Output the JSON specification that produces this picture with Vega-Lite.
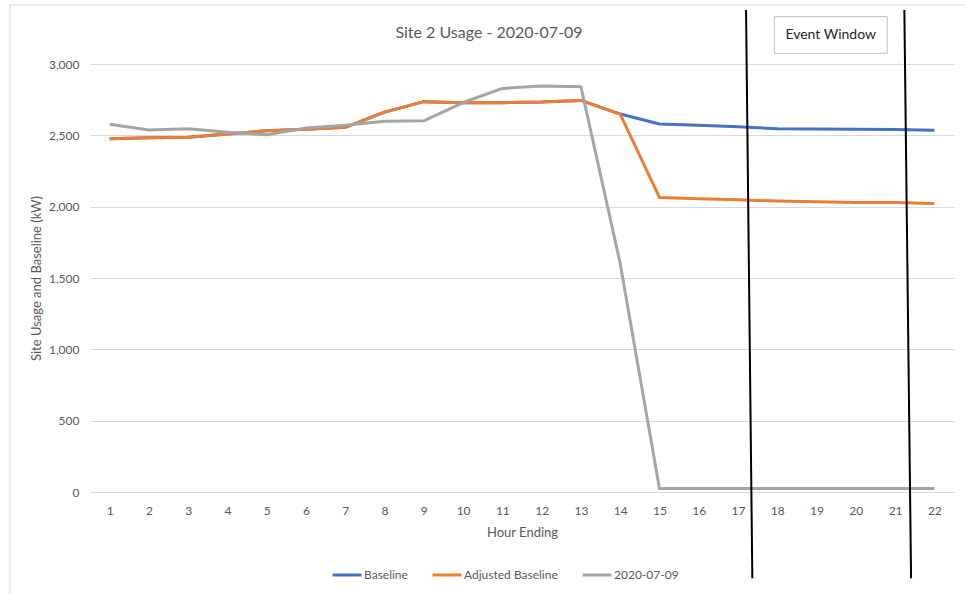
{
  "$schema": "https://vega.github.io/schema/vega-lite/v6.json",
  "width": 864,
  "height": 428,
  "autosize": {"type": "none"},
  "padding": {"left": 90, "top": 64, "right": 11, "bottom": 102},
  "background": "white",
  "config": {
    "view": {"stroke": null},
    "font": "Lato",
    "axis": {"labelFont": "Lato", "titleFont": "Lato", "labelColor": "#595959", "titleColor": "#595959", "labelFontSize": 12, "titleFontSize": 13, "titleFontWeight": "normal"},
    "legend": {"labelFont": "Lato", "labelFontSize": 12, "labelColor": "#595959"}
  },
  "datasets": {
    "usage": [
      {"hour": 1, "series": "Baseline", "kw": 2476}, {"hour": 2, "series": "Baseline", "kw": 2483}, {"hour": 3, "series": "Baseline", "kw": 2486}, {"hour": 4, "series": "Baseline", "kw": 2509}, {"hour": 5, "series": "Baseline", "kw": 2532}, {"hour": 6, "series": "Baseline", "kw": 2542}, {"hour": 7, "series": "Baseline", "kw": 2556}, {"hour": 8, "series": "Baseline", "kw": 2663}, {"hour": 9, "series": "Baseline", "kw": 2736}, {"hour": 10, "series": "Baseline", "kw": 2729}, {"hour": 11, "series": "Baseline", "kw": 2729}, {"hour": 12, "series": "Baseline", "kw": 2733}, {"hour": 13, "series": "Baseline", "kw": 2745}, {"hour": 14, "series": "Baseline", "kw": 2649}, {"hour": 15, "series": "Baseline", "kw": 2579}, {"hour": 16, "series": "Baseline", "kw": 2570}, {"hour": 17, "series": "Baseline", "kw": 2560}, {"hour": 18, "series": "Baseline", "kw": 2546}, {"hour": 19, "series": "Baseline", "kw": 2544}, {"hour": 20, "series": "Baseline", "kw": 2542}, {"hour": 21, "series": "Baseline", "kw": 2541}, {"hour": 22, "series": "Baseline", "kw": 2535},
      {"hour": 1, "series": "Adjusted Baseline", "kw": 2476}, {"hour": 2, "series": "Adjusted Baseline", "kw": 2483}, {"hour": 3, "series": "Adjusted Baseline", "kw": 2486}, {"hour": 4, "series": "Adjusted Baseline", "kw": 2509}, {"hour": 5, "series": "Adjusted Baseline", "kw": 2532}, {"hour": 6, "series": "Adjusted Baseline", "kw": 2542}, {"hour": 7, "series": "Adjusted Baseline", "kw": 2556}, {"hour": 8, "series": "Adjusted Baseline", "kw": 2663}, {"hour": 9, "series": "Adjusted Baseline", "kw": 2736}, {"hour": 10, "series": "Adjusted Baseline", "kw": 2729}, {"hour": 11, "series": "Adjusted Baseline", "kw": 2729}, {"hour": 12, "series": "Adjusted Baseline", "kw": 2733}, {"hour": 13, "series": "Adjusted Baseline", "kw": 2745}, {"hour": 14, "series": "Adjusted Baseline", "kw": 2649}, {"hour": 15, "series": "Adjusted Baseline", "kw": 2065}, {"hour": 16, "series": "Adjusted Baseline", "kw": 2055}, {"hour": 17, "series": "Adjusted Baseline", "kw": 2048}, {"hour": 18, "series": "Adjusted Baseline", "kw": 2039}, {"hour": 19, "series": "Adjusted Baseline", "kw": 2034}, {"hour": 20, "series": "Adjusted Baseline", "kw": 2030}, {"hour": 21, "series": "Adjusted Baseline", "kw": 2030}, {"hour": 22, "series": "Adjusted Baseline", "kw": 2023},
      {"hour": 1, "series": "2020-07-09", "kw": 2577}, {"hour": 2, "series": "2020-07-09", "kw": 2537}, {"hour": 3, "series": "2020-07-09", "kw": 2546}, {"hour": 4, "series": "2020-07-09", "kw": 2521}, {"hour": 5, "series": "2020-07-09", "kw": 2504}, {"hour": 6, "series": "2020-07-09", "kw": 2551}, {"hour": 7, "series": "2020-07-09", "kw": 2570}, {"hour": 8, "series": "2020-07-09", "kw": 2598}, {"hour": 9, "series": "2020-07-09", "kw": 2602}, {"hour": 10, "series": "2020-07-09", "kw": 2730}, {"hour": 11, "series": "2020-07-09", "kw": 2829}, {"hour": 12, "series": "2020-07-09", "kw": 2846}, {"hour": 13, "series": "2020-07-09", "kw": 2841}, {"hour": 14, "series": "2020-07-09", "kw": 1602}, {"hour": 15, "series": "2020-07-09", "kw": 25}, {"hour": 16, "series": "2020-07-09", "kw": 25}, {"hour": 17, "series": "2020-07-09", "kw": 25}, {"hour": 18, "series": "2020-07-09", "kw": 25}, {"hour": 19, "series": "2020-07-09", "kw": 25}, {"hour": 20, "series": "2020-07-09", "kw": 25}, {"hour": 21, "series": "2020-07-09", "kw": 25}, {"hour": 22, "series": "2020-07-09", "kw": 24}
    ],
    "frame": [
      {"x": -1.537, "x2": 22.8, "y": 3414, "y2": 3414},
      {"x": -1.537, "x2": -1.537, "y": 3414, "y2": -720}
    ],
    "event": [
      {"x": 17.205, "x2": 17.365, "y": 3379, "y2": -605},
      {"x": 21.236, "x2": 21.407, "y": 3379, "y2": -605}
    ],
    "box": [
      {"x": 17.925, "x2": 20.8, "y": 3075, "y2": 3332, "xc": 19.36, "yc": 3203, "label": "Event Window"}
    ],
    "heading": [
      {"x": 10.66, "y": 3217, "label": "Site 2 Usage - 2020-07-09"}
    ]
  },
  "layer": [
    {
      "data": {"name": "frame"},
      "mark": {"type": "rule", "color": "#d9d9d9", "strokeWidth": 1},
      "encoding": {
        "x": {"field": "x", "type": "quantitative", "scale": {"domain": [0.5, 22.5], "nice": false, "zero": false},
          "axis": {"title": "Hour Ending", "values": [1,2,3,4,5,6,7,8,9,10,11,12,13,14,15,16,17,18,19,20,21,22], "grid": false, "ticks": false, "domain": false, "labelPadding": 13, "titlePadding": 10, "labelFlush": false, "labelOverlap": false}},
        "x2": {"field": "x2"},
        "y": {"field": "y", "type": "quantitative", "scale": {"domain": [0, 3000], "nice": false},
          "axis": {"title": "Site Usage and Baseline (kW)", "values": [0, 500, 1000, 1500, 2000, 2500, 3000], "format": ",.0f", "grid": true, "gridColor": "#d9d9d9", "ticks": false, "domain": false, "labelPadding": 11, "titlePadding": 5}},
        "y2": {"field": "y2"}
      }
    },
    {
      "data": {"name": "heading"},
      "mark": {"type": "text", "fontSize": 16, "font": "Lato", "color": "#595959", "baseline": "middle", "align": "center"},
      "encoding": {
        "x": {"field": "x", "type": "quantitative"},
        "y": {"field": "y", "type": "quantitative"},
        "text": {"field": "label"}
      }
    },
    {
      "data": {"name": "usage"},
      "transform": [{"filter": "datum.series === 'Baseline'"}],
      "mark": {"type": "line", "strokeWidth": 3, "strokeJoin": "round"},
      "encoding": {
        "x": {"field": "hour", "type": "quantitative"},
        "y": {"field": "kw", "type": "quantitative"},
        "color": {"field": "series", "type": "nominal",
          "scale": {"domain": ["Baseline", "Adjusted Baseline", "2020-07-09"], "range": ["#4472C4", "#ED7D31", "#A5A5A5"]},
          "legend": {"title": null, "orient": "none", "legendX": 241, "legendY": 495, "direction": "horizontal", "symbolType": "stroke", "symbolSize": 841, "symbolStrokeWidth": 3, "labelOffset": 1, "columnPadding": 18}}
      }
    },
    {
      "data": {"name": "usage"},
      "transform": [{"filter": "datum.series === 'Adjusted Baseline'"}],
      "mark": {"type": "line", "strokeWidth": 3, "strokeJoin": "round"},
      "encoding": {
        "x": {"field": "hour", "type": "quantitative"},
        "y": {"field": "kw", "type": "quantitative"},
        "color": {"field": "series", "type": "nominal"}
      }
    },
    {
      "data": {"name": "usage"},
      "transform": [{"filter": "datum.series === '2020-07-09'"}],
      "mark": {"type": "line", "strokeWidth": 3, "strokeJoin": "round"},
      "encoding": {
        "x": {"field": "hour", "type": "quantitative"},
        "y": {"field": "kw", "type": "quantitative"},
        "color": {"field": "series", "type": "nominal"}
      }
    },
    {
      "data": {"name": "event"},
      "mark": {"type": "rule", "color": "#000000", "strokeWidth": 2},
      "encoding": {
        "x": {"field": "x", "type": "quantitative"},
        "x2": {"field": "x2"},
        "y": {"field": "y", "type": "quantitative"},
        "y2": {"field": "y2"}
      }
    },
    {
      "data": {"name": "box"},
      "mark": {"type": "rect", "fill": "white", "stroke": "#bfbfbf", "strokeWidth": 1},
      "encoding": {
        "x": {"field": "x", "type": "quantitative"},
        "x2": {"field": "x2"},
        "y": {"field": "y", "type": "quantitative"},
        "y2": {"field": "y2"}
      }
    },
    {
      "data": {"name": "box"},
      "mark": {"type": "text", "fontSize": 14, "font": "Lato", "color": "#262626", "baseline": "middle", "align": "center"},
      "encoding": {
        "x": {"field": "xc", "type": "quantitative"},
        "y": {"field": "yc", "type": "quantitative"},
        "text": {"field": "label"}
      }
    }
  ]
}
